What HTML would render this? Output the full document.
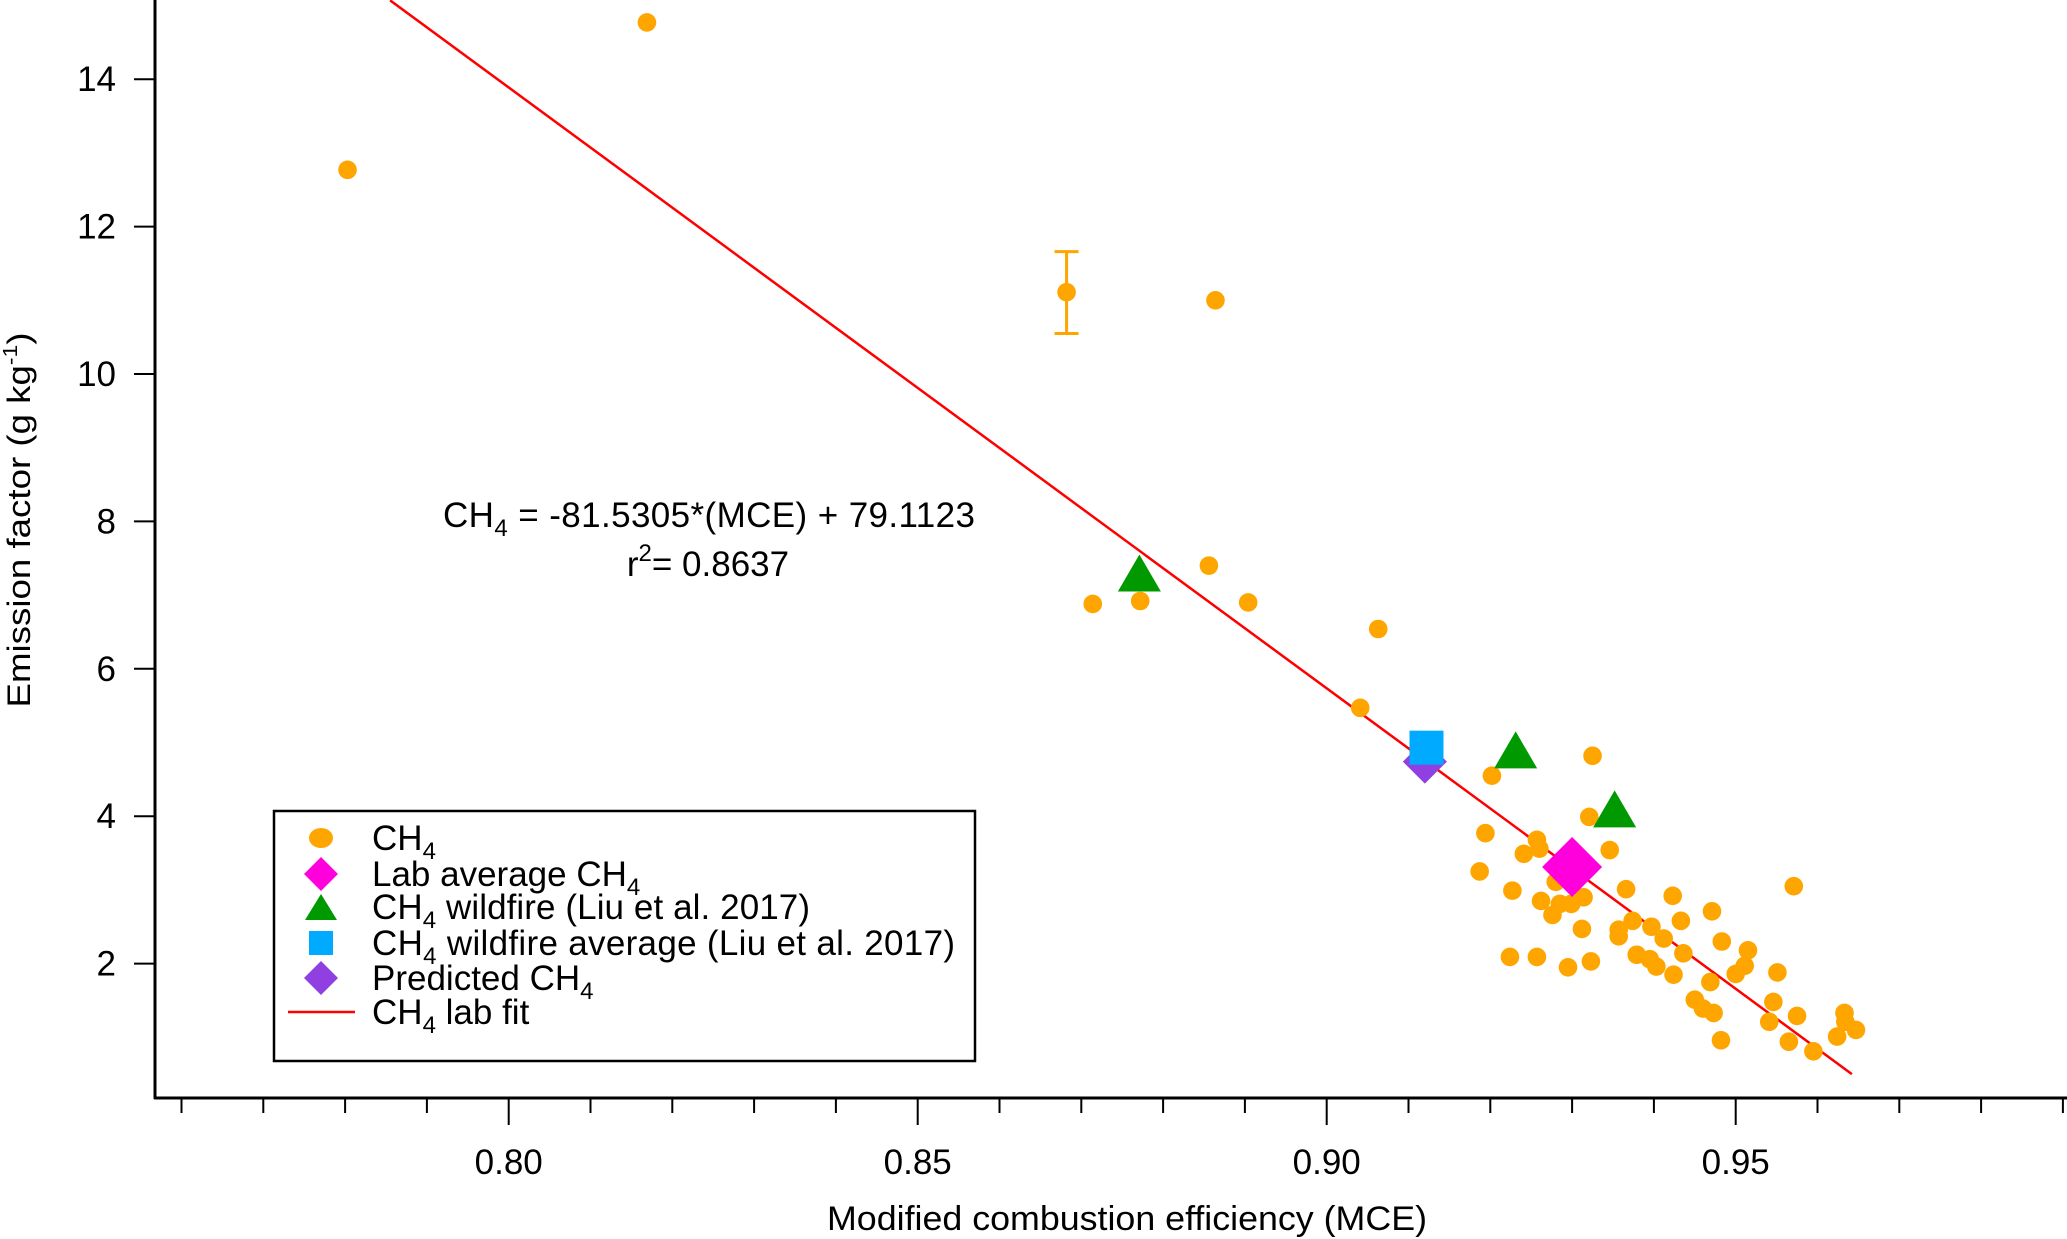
<!DOCTYPE html>
<html><head><meta charset="utf-8"><style>
html,body{margin:0;padding:0;background:#fff;}
svg{display:block;font-family:"Liberation Sans",Arial,sans-serif;}
</style></head><body>
<svg id="chart" width="2067" height="1239" viewBox="0 0 2067 1239" xmlns="http://www.w3.org/2000/svg">
<g id="axes"></g>
<g id="marks"></g>
<g font-size="35" fill="#000">
<text x="443" y="527" textLength="532" lengthAdjust="spacing">CH<tspan font-size="24" dy="9">4</tspan><tspan dy="-9"> = -81.5305*(MCE) + 79.1123</tspan></text>
<text x="708" y="576" text-anchor="middle">r<tspan font-size="24" dy="-15">2</tspan><tspan dy="15">= 0.8637</tspan></text>
</g>
<g id="legend"></g>
<text x="1127" y="1230" text-anchor="middle" font-size="34" textLength="600" lengthAdjust="spacingAndGlyphs">Modified combustion efficiency (MCE)</text>
<text transform="translate(30,520) rotate(-90)" text-anchor="middle" font-size="32" textLength="375" lengthAdjust="spacingAndGlyphs">Emission factor (g kg<tspan font-size="20" dy="-13">-1</tspan><tspan dy="13">)</tspan></text>
</svg>
<script>
const NS="http://www.w3.org/2000/svg";
const ch4MCE=[0.7803,0.8169,0.8682,0.8864,0.8714,0.8772,0.8856,0.8904,0.9063,0.9041,0.9202,0.9325,0.9321,0.9194,0.9257,0.926,0.9241,0.9346,0.9187,0.928,0.9227,0.9314,0.9366,0.9262,0.9285,0.9299,0.9276,0.9312,0.9374,0.9397,0.9423,0.9433,0.9471,0.9357,0.9357,0.9412,0.9571,0.9483,0.9379,0.9395,0.9403,0.9436,0.9424,0.9515,0.9511,0.95,0.9551,0.9469,0.9224,0.9257,0.9295,0.9323,0.945,0.946,0.9473,0.9546,0.9541,0.9575,0.9482,0.9565,0.9595,0.9633,0.9634,0.9647,0.9624];
const ch4EF=[12.77,14.77,11.11,11.0,6.88,6.92,7.40,6.90,6.54,5.47,4.55,4.82,3.99,3.77,3.68,3.56,3.49,3.54,3.25,3.11,2.99,2.90,3.01,2.85,2.81,2.81,2.66,2.47,2.58,2.50,2.92,2.58,2.71,2.46,2.37,2.34,3.05,2.30,2.12,2.06,1.96,2.14,1.85,2.18,1.97,1.86,1.88,1.75,2.09,2.09,1.95,2.03,1.51,1.39,1.33,1.48,1.21,1.29,0.96,0.94,0.81,1.33,1.21,1.10,1.01];
const errIndex=[2];
const errLow=[0.56];
const errHigh=[0.55];
const wildMCE=[0.8771,0.9231,0.9352];
const wildEF=[7.30,4.90,4.10];
const wildAvgMCE=[0.9122];
const wildAvgEF=[4.93];
const labAvgMCE=[0.930];
const labAvgEF=[3.31];
const predMCE=[0.912];
const predEF=[4.74];
const fitSlope=-81.5305, fitIntercept=79.1123;
const fitRange=[0.7855,0.9642];
const xTicksMajor=[0.80,0.85,0.90,0.95];
const xTickLabels=["0.80","0.85","0.90","0.95"];
const yTicks=[2,4,6,8,10,12,14];

const X=m=>508.7+(m-0.80)*8180;
const Y=v=>963.6-(v-2)*73.7;
function el(t,a,p){const e=document.createElementNS(NS,t);for(const k in a)e.setAttribute(k,a[k]);p.appendChild(e);return e;}
const axes=document.getElementById('axes'), marks=document.getElementById('marks'), leg=document.getElementById('legend');

let e=el('line',{x1:155,y1:0,x2:155,y2:1099,stroke:'#000','stroke-width':3},axes);


e=el('line',{x1:154,y1:1098,x2:2067,y2:1098,stroke:'#000','stroke-width':3},axes);


for(let i=0;i<=23;i++){const m=0.76+i*0.01;const maj=xTicksMajor.some(t=>Math.abs(t-m)<1e-6);const x=X(m);if(x>2066)break;
 e=el('line',{x1:x,y1:1098,x2:x,y2:maj?1125:1113,stroke:'#000','stroke-width':2},axes);
 
 }
xTicksMajor.forEach((m,i)=>{e=el('text',{x:X(m),y:1174,'text-anchor':'middle','font-size':35},axes);e.textContent=xTickLabels[i];
 
 });
yTicks.forEach(v=>{e=el('line',{x1:134,y1:Y(v),x2:155,y2:Y(v),stroke:'#000','stroke-width':2},axes);
 
 
 e=el('text',{x:116,y:Y(v)+12,'text-anchor':'end','font-size':35},axes);e.textContent=String(v);
 
 });

e=el('line',{x1:X(fitRange[0]),y1:Y(fitSlope*fitRange[0]+fitIntercept),x2:X(fitRange[1]),y2:Y(fitSlope*fitRange[1]+fitIntercept),stroke:'#ff0000','stroke-width':2.5},marks);


errIndex.forEach((idx,k)=>{const x=X(ch4MCE[idx]),y1=Y(ch4EF[idx]+errHigh[k]),y2=Y(ch4EF[idx]-errLow[k]);
 const g=el('g',{stroke:'#ffa500','stroke-width':3},marks);
 
 
 el('line',{x1:x,y1:y1,x2:x,y2:y2},g);el('line',{x1:x-12,y1:y1,x2:x+12,y2:y1},g);el('line',{x1:x-12,y1:y2,x2:x+12,y2:y2},g);});
ch4MCE.forEach((m,i)=>{e=el('circle',{cx:X(m),cy:Y(ch4EF[i]),r:9.3,fill:'#ffa500'},marks);
 
 });
function tri(cx,cy,w,h,p){return el('polygon',{points:`${cx},${cy-h/2} ${cx-w/2},${cy+h/2} ${cx+w/2},${cy+h/2}`,fill:'#009900'},p);}
function dia(cx,cy,r,c,p){return el('polygon',{points:`${cx},${cy-r} ${cx+r},${cy} ${cx},${cy+r} ${cx-r},${cy}`,fill:c},p);}
wildMCE.forEach((m,i)=>{e=tri(X(m),Y(wildEF[i]),43,37,marks);
 
 });
predMCE.forEach((m,i)=>{e=dia(X(m),Y(predEF[i]),22,'#9040e0',marks);
 
 });
wildAvgMCE.forEach((m,i)=>{e=el('rect',{x:X(m)-17,y:Y(wildAvgEF[i])-17,width:34,height:34,fill:'#00aaff'},marks);
 
 });
labAvgMCE.forEach((m,i)=>{e=dia(X(m),Y(labAvgEF[i]),30,'#ff00dd',marks);
 
 });

e=el('rect',{x:274,y:811,width:701,height:250,fill:'#fff',stroke:'#000','stroke-width':2.5},leg);


const ly=[838,874,907,943,978,1012];
const labels=[['CH','4',''],['Lab average CH','4',''],['CH','4',' wildfire (Liu et al. 2017)'],['CH','4',' wildfire average (Liu et al. 2017)'],['Predicted CH','4',''],['CH','4',' lab fit']];
el('ellipse',{cx:321,cy:ly[0],rx:12,ry:10,fill:'#ffa500'},leg);
dia(321,ly[1],17,'#ff00dd',leg);
tri(321,ly[2],32,26,leg);
el('rect',{x:309,y:ly[3]-12,width:24,height:24,fill:'#00aaff'},leg);
dia(321,ly[4],17,'#9040e0',leg);
el('line',{x1:288,y1:ly[5],x2:355,y2:ly[5],stroke:'#ff0000','stroke-width':2.5},leg);
const widths=[null,null,438,583,null,null];
labels.forEach((l,i)=>{const a={x:372,y:ly[i]+12,'font-size':35};if(widths[i]){a.textLength=widths[i];a.lengthAdjust='spacing';}
 const t=el('text',a,leg);
 
 
 t.innerHTML=`${l[0]}<tspan font-size="24" dy="9">${l[1]}</tspan><tspan dy="-9">${l[2]}</tspan>`;});
</script>
</body></html>
